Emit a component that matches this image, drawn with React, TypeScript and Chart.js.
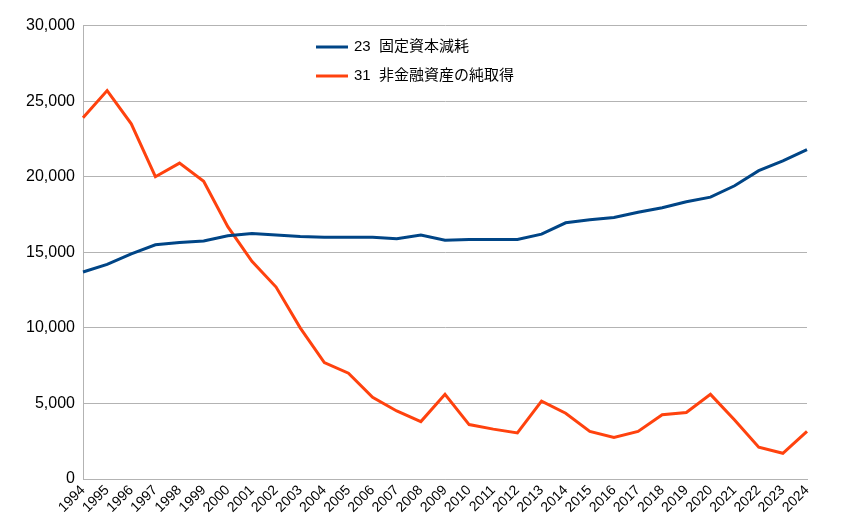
import React, { useEffect, useRef } from "react";
import { Chart, registerables } from "chart.js";
Chart.register(...registerables);

const years = ["1994","1995","1996","1997","1998","1999","2000","2001","2002","2003","2004","2005","2006","2007","2008","2009","2010","2011","2012","2013","2014","2015","2016","2017","2018","2019","2020","2021","2022","2023","2024"];
const depreciation = [13700,14200,14900,15500,15650,15750,16100,16250,16150,16050,16000,16000,16000,15900,16150,15800,15850,15850,15850,16200,16950,17150,17300,17650,17950,18350,18650,19400,20400,21050,21800];
const netAcquisition = [23900,25700,23500,20000,20900,19700,16700,14400,12700,10000,7700,7000,5400,4500,3800,5600,3600,3300,3050,5150,4350,3150,2750,3150,4250,4400,5600,3900,2100,1700,3150];
const labels = ["23  固定資本減耗", "31  非金融資産の純取得"];
const colors = ["#004586", "#ff420e"];

const legendPlugin = {
  id: "floatLegend",
  afterDraw(chart: any) {
    const ctx = chart.ctx;
    ctx.save();
    ctx.font = "15px 'Liberation Sans', 'Noto Sans CJK JP', sans-serif";
    ctx.textBaseline = "middle";
    labels.forEach((l, i) => {
      const y = 39 + i * 29;
      ctx.strokeStyle = colors[i];
      ctx.lineWidth = 3;
      ctx.beginPath();
      ctx.moveTo(308, y);
      ctx.lineTo(340, y);
      ctx.stroke();
      ctx.fillStyle = "#000";
      ctx.fillText(l, 346, y);
    });
    ctx.restore();
  },
};

export default function App() {
  const ref = useRef<HTMLCanvasElement>(null);
  useEffect(() => {
    const chart = new Chart(ref.current!, {
      type: "line",
      data: {
        labels: years,
        datasets: [
          { data: depreciation, borderColor: colors[0], borderWidth: 3, pointRadius: 0, tension: 0 },
          { data: netAcquisition, borderColor: colors[1], borderWidth: 3, pointRadius: 0, tension: 0 },
        ],
      },
      options: {
        animation: false,
        responsive: false,
        layout: { padding: { right: 48, top: 1 } },
        plugins: { legend: { display: false }, tooltip: { enabled: false } },
        scales: {
          x: {
            offset: false,
            grid: { display: false, drawTicks: false },
            border: { color: "#b3b3b3" },
            afterFit: (s: any) => { s.height = 52; },
            ticks: { color: "#000", font: { size: 14, family: "'Liberation Sans', sans-serif" }, maxRotation: 45, minRotation: 45, autoSkip: false },
          },
          y: {
            min: 0, max: 30000,
            afterFit: (s: any) => { s.width = 75; },
            ticks: { stepSize: 5000, color: "#000", font: { size: 16, family: "'Liberation Sans', sans-serif" }, callback: (v: any) => Number(v).toLocaleString("en-US"), padding: 8 },
            grid: { color: "#b3b3b3", drawTicks: false },
            border: { color: "#b3b3b3" },
          },
        },
      },
      plugins: [legendPlugin],
    });
    return () => chart.destroy();
  }, []);
  return <canvas ref={ref} width={847} height={523} />;
}
